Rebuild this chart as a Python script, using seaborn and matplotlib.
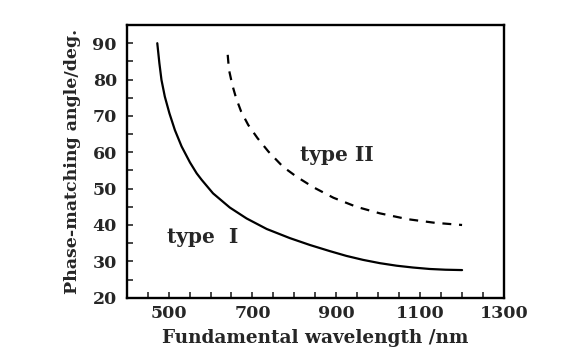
import matplotlib
matplotlib.use("Agg")
import matplotlib.pyplot as plt
import seaborn as sns
import pandas as pd
from matplotlib.ticker import MultipleLocator, FixedLocator

# type I (solid) curve
type1_wl = [473, 478, 483, 491, 502, 515, 531, 551, 567, 579, 606, 646,
            686, 734, 789, 837, 885, 924, 964, 1004, 1044, 1083, 1123, 1160, 1200]
type1_ang = [90, 84.5, 79.9, 75.3, 70.7, 66.1, 61.6, 57.2, 54.2, 52.4, 48.7, 44.8,
             41.8, 38.9, 36.4, 34.5, 32.8, 31.5, 30.4, 29.5, 28.8, 28.3, 27.9, 27.7, 27.6]

# type II (dashed) curve
type2_wl = [641, 644, 652, 661, 673, 690, 712, 738, 773, 805, 845, 893,
            948, 1004, 1070, 1135, 1200]
type2_ang = [86.8, 82.7, 78.5, 74.9, 71.2, 67.5, 63.9, 60.2, 56.0, 53.3, 50.4, 47.5,
             45.0, 43.2, 41.6, 40.6, 40.0]

x_ticks = [500, 700, 900, 1100, 1300]
y_ticks = [20, 30, 40, 50, 60, 70, 80, 90]

df1 = pd.DataFrame({"wl": type1_wl, "ang": type1_ang})
df2 = pd.DataFrame({"wl": type2_wl, "ang": type2_ang})

sns.set_style("ticks")
plt.rcParams["font.family"] = ["DejaVu Serif"]
plt.rcParams["font.weight"] = "bold"

fig = plt.figure(figsize=(5.62, 3.62), dpi=100)
ax = fig.add_axes([0.2254, 0.1776, 0.6714, 0.7533])

sns.lineplot(data=df1, x="wl", y="ang", ax=ax, color="black", linewidth=1.6,
             solid_joinstyle="round")
sns.lineplot(data=df2, x="wl", y="ang", ax=ax, color="black", linewidth=1.6,
             linestyle=(0, (4, 3.5)))

ax.set_xlim(400, 1300)
ax.set_ylim(20, 95)
ax.xaxis.set_major_locator(FixedLocator(x_ticks))
ax.xaxis.set_minor_locator(MultipleLocator(50))
ax.yaxis.set_major_locator(FixedLocator(y_ticks))
ax.yaxis.set_minor_locator(MultipleLocator(5))
ax.tick_params(which="both", direction="in", length=4, width=1.2, labelsize=12.5)
ax.tick_params(axis="x", pad=5)
ax.tick_params(axis="y", pad=7)
for s in ax.spines.values():
    s.set_linewidth(1.7)
    s.set_color("black")

ax.set_xlabel("Fundamental wavelength /nm", fontsize=13.3, fontweight="bold", labelpad=5)
ax.set_ylabel("Phase-matching angle/deg.", fontsize=12.5, fontweight="bold", labelpad=8)

ax.text(581, 36.8, "type  I", fontsize=14.5, fontweight="bold", ha="center", va="center")
ax.text(901, 59.3, "type II", fontsize=14.5, fontweight="bold", ha="center", va="center")

plt.savefig("out.png", dpi=100)
plt.close()
